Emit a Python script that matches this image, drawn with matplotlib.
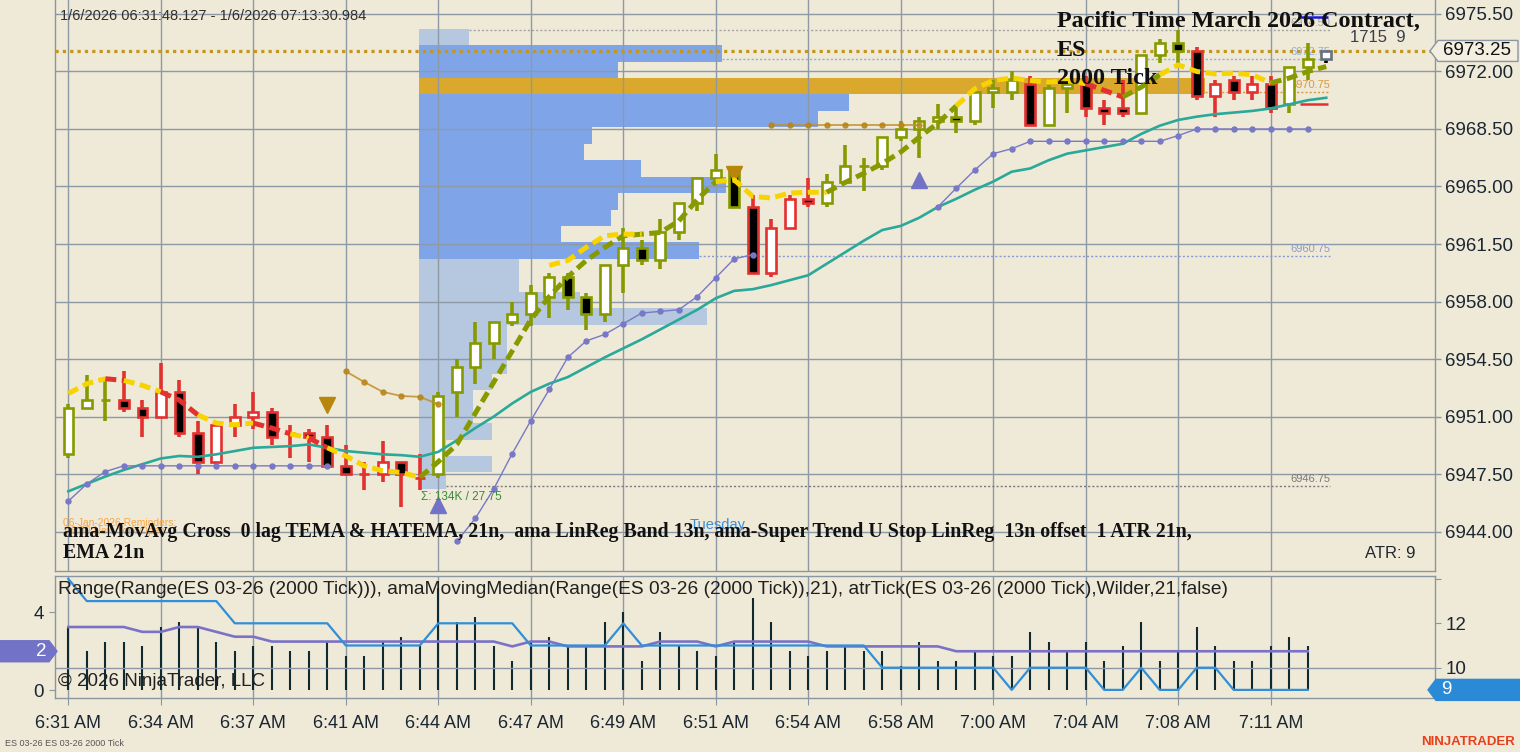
import matplotlib
matplotlib.use("Agg")
import matplotlib.pyplot as plt
import numpy as np
from matplotlib.patches import Rectangle, Polygon

plt.rcParams['font.family'] = ['Liberation Sans', 'DejaVu Sans']

W, H = 1520, 752
BG = '#efe9d7'
GRID = '#8d9aa6'
SPINE = '#8a96a0'
TXT = '#1a2632'
OLIVE = '#869a00'
RED = '#e2312f'
YELLOW = '#f7d300'
TEAL = '#2aa89a'
PURPLE = '#7878c8'
BROWN = '#c0902a'

# ---- price bars (ES 03-26, 2000 tick) ----
opens = [6948.75, 6951.5, 6952.0, 6952.0, 6951.5, 6951.0, 6952.5, 6950.0, 6948.25, 6950.5,
         6951.0, 6951.25, 6950.0, 6950.0, 6949.75, 6948.0, 6947.5, 6947.5, 6948.25, 6947.25,
         6947.5, 6952.5, 6954.0, 6955.5, 6956.75, 6957.25, 6958.25, 6959.5, 6958.25, 6957.25,
         6960.25, 6961.25, 6960.5, 6962.25, 6964.0, 6965.5, 6966.0, 6963.75, 6959.75, 6962.5,
         6964.25, 6964.0, 6965.25, 6966.25, 6966.25, 6968.0, 6968.5, 6969.0, 6969.25, 6969.0,
         6970.75, 6970.75, 6971.25, 6968.75, 6971.0, 6971.25, 6969.75, 6969.75, 6969.5, 6973.0,
         6973.75, 6973.25, 6970.5, 6971.5, 6970.75, 6971.25, 6970.0, 6972.25, 6972.75]
highs = [6951.75, 6953.5, 6953.25, 6953.75, 6952.0, 6954.25, 6953.25, 6950.75, 6950.5, 6951.75,
         6952.5, 6951.5, 6950.5, 6950.25, 6950.5, 6949.25, 6948.25, 6949.5, 6948.25, 6948.75,
         6952.5, 6954.5, 6956.75, 6956.75, 6958.0, 6959.0, 6959.75, 6959.75, 6958.5, 6960.25,
         6962.5, 6961.75, 6963.0, 6964.0, 6965.5, 6967.0, 6966.25, 6964.5, 6963.0, 6964.5,
         6965.5, 6965.75, 6967.5, 6966.75, 6968.0, 6969.0, 6969.25, 6970.0, 6969.75, 6970.75,
         6971.5, 6972.0, 6971.75, 6971.25, 6971.5, 6971.75, 6970.25, 6971.5, 6973.0, 6974.0,
         6974.5, 6973.5, 6971.5, 6971.75, 6971.75, 6971.75, 6972.25, 6973.75, 6973.25]
lows = [6948.5, 6951.5, 6950.75, 6951.25, 6949.75, 6951.0, 6949.75, 6947.5, 6948.0, 6949.75,
        6950.25, 6949.25, 6948.5, 6948.25, 6948.0, 6947.5, 6946.5, 6947.0, 6945.5, 6946.5,
        6947.25, 6951.0, 6953.0, 6954.5, 6956.5, 6956.5, 6957.0, 6957.5, 6956.25, 6956.75,
        6958.5, 6960.25, 6960.0, 6961.75, 6963.5, 6965.25, 6963.75, 6959.75, 6959.5, 6962.5,
        6963.75, 6963.75, 6965.25, 6964.75, 6966.0, 6967.75, 6966.75, 6968.5, 6968.25, 6968.75,
        6969.75, 6970.25, 6968.75, 6968.75, 6969.5, 6969.25, 6968.75, 6969.25, 6969.5, 6972.5,
        6972.5, 6970.25, 6969.25, 6970.25, 6970.25, 6969.5, 6969.5, 6971.5, 6972.5]
closes = [6951.5, 6952.0, 6952.0, 6951.5, 6951.0, 6952.5, 6950.0, 6948.25, 6950.5, 6951.0,
          6951.25, 6949.75, 6950.0, 6949.75, 6948.0, 6947.5, 6947.5, 6948.25, 6947.5, 6947.25,
          6952.25, 6954.0, 6955.5, 6956.75, 6957.25, 6958.5, 6959.5, 6958.25, 6957.25, 6960.25,
          6961.25, 6960.5, 6962.25, 6964.0, 6965.5, 6966.0, 6963.75, 6959.75, 6962.5, 6964.25,
          6964.0, 6965.25, 6966.25, 6966.25, 6968.0, 6968.5, 6969.0, 6969.25, 6969.0, 6970.75,
          6971.0, 6971.5, 6968.75, 6971.0, 6971.25, 6969.75, 6969.5, 6969.5, 6973.0, 6973.75,
          6973.25, 6970.5, 6971.25, 6970.75, 6971.25, 6969.75, 6972.25, 6972.75, 6973.25]
# g = up trend (olive), r = down trend (red), x = forming bar
bar_trend = ("ggg" "rrrrrrrrrrrrrrrrr" "ggggggggggggggggg" "rrrr" "ggggggggggg" "r" "gg"
             "rrr" "ggg" "rrrrr" "gg" "x")

# ---- ama-MovAvg Cross (0 lag TEMA / HATEMA) ----
fast_ma = [6952.4, 6953.0, 6953.3, 6953.2, 6952.9, 6952.5, 6952.0, 6951.1, 6950.6, 6950.5,
           6950.6, 6950.3, 6949.95, 6949.7, 6949.1, 6948.6, 6948.0, 6947.7, 6947.6, 6947.3,
           6948.25, 6949.3, 6951.2, 6953.1, 6955.0, 6956.9, 6958.3, 6959.5, 6960.5, 6961.3,
           6962.0, 6962.1, 6962.2, 6962.9, 6964.2, 6965.3, 6965.4, 6964.4, 6964.3, 6964.6,
           6964.65, 6964.65, 6965.25, 6965.8, 6966.4, 6967.1, 6968.0, 6968.85, 6969.9, 6970.95,
           6971.45, 6971.6, 6971.45, 6971.35, 6971.45, 6971.25, 6970.85, 6970.45, 6971.05, 6971.8,
           6972.4, 6972.0, 6971.85, 6971.9, 6971.8, 6971.3, 6971.6, 6972.0, 6972.3]
fast_ma_col = ("yyryyrryyyrryryyyyy" "gggggggggggggggg" "yyyyyy" "ggggggg" "yyyyyyy"
               "rr" "gg" "yyyyyy" "ggg")
slow_ma_start = 26
slow_ma = [6960.2, 6960.5, 6961.3, 6962.0, 6962.1, 6962.1]

# ---- EMA 21 ----
ema21 = [6946.45, 6946.9, 6947.35, 6947.75, 6948.1, 6948.45, 6948.6, 6948.55, 6948.7, 6948.9,
         6949.1, 6949.15, 6949.2, 6949.3, 6949.1, 6948.9, 6948.8, 6948.7, 6948.65, 6948.55,
         6948.85, 6949.55, 6950.3, 6951.0, 6951.8, 6952.5, 6953.0, 6953.4, 6954.0, 6954.6,
         6955.15, 6955.7, 6956.3, 6956.9, 6957.5, 6958.2, 6958.65, 6958.75, 6959.0, 6959.3,
         6959.6, 6960.3, 6961.0, 6961.7, 6962.35, 6962.6, 6963.1, 6963.75, 6964.25, 6964.8,
         6965.3, 6965.9, 6966.1, 6966.6, 6967.0, 6967.2, 6967.4, 6967.6, 6968.2, 6968.7,
         6969.05, 6969.25, 6969.4, 6969.5, 6969.6, 6969.75, 6970.0, 6970.25, 6970.4]

# ---- Super Trend U stops (start bar, values) ----
stop_long = [
    (0, [6945.85, 6946.9, 6947.65, 6948.0, 6948.0, 6948.0, 6948.0, 6948.0, 6948.0, 6948.0,
         6948.0, 6948.0, 6948.0, 6948.0, 6948.0]),
    (21, [6943.4, 6944.8, 6946.6, 6948.75, 6950.75, 6952.65, 6954.6, 6955.6, 6956.0, 6956.65,
          6957.3, 6957.4, 6957.5, 6958.3, 6959.45, 6960.6, 6960.85]),
    (47, [6963.75, 6964.9, 6966.0, 6967.0, 6967.3, 6967.75, 6967.75, 6967.75, 6967.75, 6967.75,
          6967.75, 6967.75, 6967.75, 6968.1, 6968.5, 6968.5, 6968.5, 6968.5, 6968.5, 6968.5,
          6968.5]),
]
stop_short = [
    (15, [6953.75, 6953.1, 6952.5, 6952.25, 6952.2, 6951.75]),
    (38, [6968.75, 6968.75, 6968.75, 6968.75, 6968.75, 6968.75, 6968.75, 6968.75, 6968.75]),
]
sell_bars, sell_prices = [14, 36], [6951.7, 6965.75]
buy_bars, buy_prices = [20, 46], [6945.6, 6965.4]
band_upper, band_lower = 6975.3, 6970.0

# ---- volume profile (thousand contracts per 1 pt row) ----
prof_price = [6974.1, 6973.1, 6972.1, 6971.1, 6970.1, 6969.1, 6968.1, 6967.1, 6966.1, 6965.1,
              6964.1, 6963.1, 6962.1, 6961.1, 6960.1, 6959.1, 6958.1, 6957.1, 6956.1, 6955.1,
              6954.1, 6953.1, 6952.1, 6951.1, 6950.1, 6949.1, 6948.1, 6947.1]
prof_vol = [1.3, 7.9, 5.2, 20.5, 11.2, 10.4, 4.5, 4.3, 5.8, 8.0,
            5.2, 5.0, 3.7, 7.3, 2.6, 2.6, 4.2, 7.5, 2.3, 2.3,
            2.3, 1.9, 1.4, 1.4, 1.9, 0.7, 1.9, 0.7]
prof_kind = "LDDPDDDDDDDDDDLLLLLLLLLLLLLL"
prof_high, prof_vah, prof_poc, prof_val, prof_low = 6974.5, 6972.75, 6970.75, 6960.75, 6946.75
last_price = 6973.25

# ---- lower panel ----
range_median = [3.25, 3.25, 3.25, 3.25, 3.0, 3.0, 3.25, 3.25, 3.0, 2.75,
                2.75, 2.5, 2.5, 2.5, 2.5, 2.5, 2.5, 2.5, 2.5, 2.5,
                2.5, 2.5, 2.5, 2.5, 2.25, 2.5, 2.5, 2.25, 2.25, 2.25,
                2.25, 2.25, 2.5, 2.5, 2.5, 2.25, 2.5, 2.5, 2.5, 2.5,
                2.5, 2.25, 2.25, 2.25, 2.25, 2.25, 2.25, 2.25, 2.0, 2.0,
                2.0, 2.0, 2.0, 2.0, 2.0, 2.0, 2.0, 2.0, 2.0, 2.0,
                2.0, 2.0, 2.0, 2.0, 2.0, 2.0, 2.0, 2.0]
atr_ticks = [14, 13, 13, 13, 13, 13, 13, 13, 13, 12,
             12, 12, 12, 12, 12, 11, 11, 11, 11, 11,
             12, 12, 12, 12, 12, 11, 11, 11, 11, 11,
             12, 11, 11, 11, 11, 11, 11, 11, 11, 11,
             11, 11, 11, 11, 10, 10, 10, 10, 10, 10,
             10, 9, 10, 10, 10, 10, 9, 9, 10, 9,
             9, 10, 10, 9, 9, 9, 9, 9]

time_bars = [0, 5, 10, 15, 20, 25, 30, 35, 40, 45, 50, 55, 60, 65]
time_labels = ['6:31 AM', '6:34 AM', '6:37 AM', '6:41 AM', '6:44 AM', '6:47 AM', '6:49 AM',
               '6:51 AM', '6:54 AM', '6:58 AM', '7:00 AM', '7:04 AM', '7:08 AM', '7:11 AM']
price_ticks = [6944.0, 6947.5, 6951.0, 6954.5, 6958.0, 6961.5, 6965.0, 6968.5, 6972.0, 6975.5]


def fx(px):
    return px / W


def fy(py):
    return 1 - py / H


fig = plt.figure(figsize=(W / 100, H / 100), dpi=100, facecolor=BG)
ax = fig.add_axes([fx(55), fy(571), (1435 - 55) / W, 571 / H], facecolor=BG)
axl = fig.add_axes([fx(55), fy(698), (1435 - 55) / W, 122 / H], facecolor=BG)
axr = axl.twinx()

XLIM = (-0.72, 73.88)
ax.set_xlim(*XLIM)
axl.set_xlim(*XLIM)
ax.set_ylim(6941.6, 6976.35)
axl.set_ylim(-0.41, 5.88)
axr.set_ylim(8.635, 14.13)

for a in (ax, axl, axr):
    for s in a.spines.values():
        s.set_color(SPINE)
        s.set_linewidth(1.0)
ax.spines['top'].set_visible(False)
axl.spines['right'].set_visible(False)
for k in ('left', 'top', 'bottom'):
    axr.spines[k].set_visible(False)

# grid / ticks main
ax.set_xticks(time_bars)
ax.tick_params(axis='x', length=0, labelbottom=False)
ax.yaxis.tick_right()
ax.set_yticks(price_ticks)
ax.set_yticklabels([f'{p:.2f}' for p in price_ticks])
ax.tick_params(axis='y', length=4, width=1, color=SPINE, pad=3, labelsize=13.5, labelcolor=TXT)
ax.grid(True, color=GRID, lw=1.0)

# volume profile
x0 = 18.96
poc_width = 42.5
pw = np.array(prof_vol) / max(prof_vol) * poc_width
kind_col = {'L': '#b6c7e0', 'D': '#7fa5e8', 'P': '#d9a82c'}
ax.barh(prof_price, pw, height=1.0, left=x0, color=[kind_col[k] for k in prof_kind],
        linewidth=0, zorder=1)
end_x = 68.2
lvl = [(prof_high, 0, '#a3a3a3', '6974.50'), (prof_vah, 1, '#8aaef0', '6972.75'),
       (prof_poc, 3, '#d89a40', '6970.75'), (prof_val, 13, '#8a9ad0', '6960.75'),
       (prof_low, 27, '#7a7a7a', '6946.75')]
for val, row, c, lab in lvl:
    ax.hlines(val, x0 + pw[row], end_x, color=c, lw=1.0, linestyles=(0, (1.5, 1.5)), zorder=2)
    ax.text(end_x, val + 0.12, lab, color=c, fontsize=8, ha='right', va='bottom', zorder=2)

ax.axhline(last_price, color='#c4961a', lw=2.3, linestyle=(0, (1, 1.3)), zorder=3)

# EMA
idx = np.arange(len(opens))
ax.plot(idx, ema21, color=TEAL, lw=1.9, zorder=6)

# stops
for start, vals in stop_long:
    xs = np.arange(start, start + len(vals))
    ax.plot(xs, vals, color=PURPLE, lw=1.0, marker='o', ms=3.6, mec=PURPLE, zorder=6)
for start, vals in stop_short:
    xs = np.arange(start, start + len(vals))
    ax.plot(xs, vals, color=BROWN, lw=1.3, alpha=0.85, marker='o', ms=3.6, mec='#b8861a',
            mfc='#b8861a', zorder=6)
ax.plot(sell_bars, sell_prices, 'v', color='#b8860b', ms=11, zorder=6, lw=0)
ax.plot(buy_bars, buy_prices, '^', color='#7272c6', ms=11, zorder=6, lw=0)
ax.hlines([band_upper], 66.6, 68.1, color='#1a1ae0', lw=1.8, zorder=6)
ax.hlines([band_lower], 66.6, 68.1, color=RED, lw=1.8, zorder=6)

# candles
tcol = {'g': OLIVE, 'r': RED, 'x': '#66727e'}
for i in idx:
    c = tcol[bar_trend[i]]
    o, h, l, cl = opens[i], highs[i], lows[i], closes[i]
    wick_c = 'black' if bar_trend[i] == 'x' else c
    ax.vlines(i, l, h, color=wick_c, lw=2.6, zorder=4)
    fc = 'white' if cl >= o else 'black'
    ax.add_patch(Rectangle((i - 0.26, min(o, cl)), 0.52, abs(cl - o), fc=fc, ec=c,
                           lw=1.9, zorder=5))

# MA cross lines, grouped by colour so the dashes run on
mcol = {'y': YELLOW, 'r': RED, 'g': OLIVE}
start = 0
for j in range(1, len(fast_ma_col) + 1):
    if j == len(fast_ma_col) or fast_ma_col[j] != fast_ma_col[start]:
        ax.plot(idx[start:j + 1], fast_ma[start:j + 1], color=mcol[fast_ma_col[start]],
                lw=3.6, dashes=(2.2, 1.1), dash_capstyle='butt', zorder=7)
        start = j
ax.plot(np.arange(slow_ma_start, slow_ma_start + len(slow_ma)), slow_ma, color=YELLOW,
        lw=3.6, dashes=(2.2, 1.1), zorder=7)

# ---- lower panel ----
rng = np.array(highs[:68]) - np.array(lows[:68])
axl.set_xticks(time_bars)
axl.set_xticklabels(time_labels)
axl.tick_params(axis='x', length=5, color=SPINE, pad=7, labelsize=13, labelcolor=TXT)
axl.set_yticks([0, 2, 4])
axl.tick_params(axis='y', length=4, color=SPINE, pad=4, labelsize=13.5, labelcolor=TXT)
axl.grid(True, axis='x', color=GRID, lw=1.0)
axr.set_yticks([10, 12, 14])
axr.set_yticklabels(['10', '12', ''])
axr.tick_params(axis='y', length=4, color=SPINE, pad=4, labelsize=13.5, labelcolor=TXT)
axr.axhline(10, color=GRID, lw=1.0, zorder=0.5)

axl.vlines(idx[:68], 0, rng, color='#102a32', lw=1.5, zorder=3)
axl.plot(idx[:68], range_median, color='#7b72c8', lw=1.9, zorder=4)
axr.plot(idx[:68], atr_ticks, color='#2f8fd8', lw=1.6, zorder=4)

# ---- texts ----
fig.text(fx(60), fy(16), '1/6/2026 06:31:48.127 - 1/6/2026 07:13:30.984', fontsize=10.5,
         color='#303030', va='center')
serif = ['Liberation Serif', 'DejaVu Serif']
for txt, yy in [('Pacific Time March 2026 Contract,', 21), ('ES', 50), ('2000 Tick', 78)]:
    fig.text(fx(1057), fy(yy), txt, family=serif, fontweight='bold', fontsize=17.4,
             color='#111111', va='center', zorder=8)
fig.text(fx(63), fy(523), '06-Jan-2026 Reminders:', fontsize=7.4, color='#f5a64a', va='center')
fig.text(fx(65), fy(531), '06:30 New York Open', fontsize=7.4, color='#f5a64a', va='center')
fig.text(fx(63), fy(532), 'ama-MovAvg Cross  0 lag TEMA & HATEMA, 21n,  ama LinReg Band 13n, '
         'ama-Super Trend U Stop LinReg  13n offset  1 ATR 21n,', family=serif,
         fontweight='bold', fontsize=14.3, color='#111111', va='center', zorder=8)
fig.text(fx(63), fy(553), 'EMA 21n', family=serif, fontweight='bold', fontsize=14.3,
         color='#111111', va='center', zorder=8)
fig.text(fx(690), fy(525), 'Tuesday', fontsize=10.5, color='#3a8edc', va='center')
fig.text(fx(421), fy(497), 'Σ: 134K / 27.75', fontsize=8.5, color='#3a8a3a', va='center')
fig.text(fx(1350), fy(38), '1715  9', fontsize=12, color='#38404a', va='center')
fig.text(fx(1365), fy(553), 'ATR: 9', fontsize=12, color='#202830', va='center')
fig.text(fx(58), fy(589), 'Range(Range(ES 03-26 (2000 Tick))), amaMovingMedian(Range(ES 03-26 '
         '(2000 Tick)),21), atrTick(ES 03-26 (2000 Tick),Wilder,21,false)', fontsize=13.8,
         color='#202020', va='center')
fig.text(fx(58), fy(682), '© 2026 NinjaTrader, LLC', fontsize=13.5, color='#202020', va='center')
fig.text(fx(5), fy(743), 'ES 03-26 ES 03-26 2000 Tick', fontsize=6.5, color='#555555',
         va='center')
fig.text(fx(1515), fy(742), 'NINJATRADER', fontsize=9.5, fontweight='bold', color='#e8401c',
         va='center', ha='right')


def tag(axis, yval, px0, px1, txt, fc, ec, tc, tx, point='left', fs=13.5):
    yc = axis.transData.transform((0, yval))[1] / H
    hh = 10.5
    if point == 'left':
        pts = [(px0, 0), (px0 + 8, hh), (px1, hh), (px1, -hh), (px0 + 8, -hh)]
    else:
        pts = [(px0, hh), (px1 - 8, hh), (px1, 0), (px1 - 8, -hh), (px0, -hh)]
    fig.add_artist(Polygon([(p / W, yc + q / H) for p, q in pts], closed=True,
                           transform=fig.transFigure, fc=fc, ec=ec, lw=1, zorder=5))
    fig.text(tx / W, yc, txt, color=tc, fontsize=fs, va='center', ha='left', zorder=6)


tag(ax, last_price, 1430, 1518, f'{last_price:.2f}', '#f3eee0', SPINE, '#111111', 1443)
tag(axl, range_median[-1], 0, 57, '2', '#7272c6', '#7272c6', 'white', 36, point='right')
tag(axr, atr_ticks[-1], 1428, 1520, '9', '#2b8ad6', '#2b8ad6', 'white', 1441)

fig.savefig('out.png', dpi=100, facecolor=BG)
